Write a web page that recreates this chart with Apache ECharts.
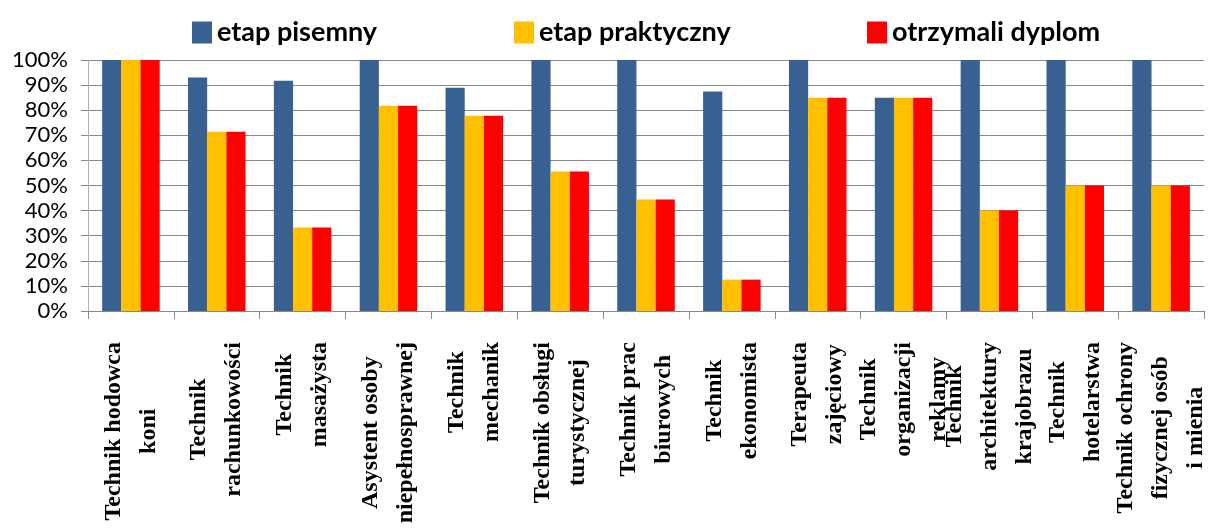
<!DOCTYPE html>
<html>
<head>
<meta charset="utf-8">
<script src="https://cdn.jsdelivr.net/npm/echarts@6/dist/echarts.min.js"></script>
<style>
  html, body { margin: 0; padding: 0; background: #fff; }
  #chart { width: 1208px; height: 532px; }
</style>
</head>
<body>
<div id="chart"></div>
<script>
// kierunki (etykiety osi X, linie rozdzielone \n)
const categories = [
  'Technik hodowca\nkoni',
  'Technik\nrachunkowości',
  'Technik\nmasażysta',
  'Asystent osoby\nniepełnosprawnej',
  'Technik\nmechanik',
  'Technik obsługi\nturystycznej',
  'Technik prac\nbiurowych',
  'Technik\nekonomista',
  'Terapeuta\nzajęciowy',
  'Technik\norganizacji\nreklamy',
  'Technik\narchitektury\nkrajobrazu',
  'Technik\nhotelarstwa',
  'Technik ochrony\nfizycznej osób\ni mienia'
];

const seriesNames = ['etap pisemny', 'etap praktyczny', 'otrzymali dyplom'];

const pisemny   = [100, 93.0, 91.7, 100, 88.9, 100, 100, 87.5, 100, 85, 100, 100, 100];
const praktyczny = [100, 71.4, 33.3, 81.8, 77.8, 55.6, 44.4, 12.5, 85, 85, 40, 50, 50];
const dyplom    = [100, 71.4, 33.3, 81.8, 77.8, 55.6, 44.4, 12.5, 85, 85, 40, 50, 50];

const colors = ['#386192', '#FFC000', '#FF0000'];

const chart = echarts.init(document.getElementById('chart'));

const legendText = {
  fontFamily: 'Lato',
  fontWeight: 'bold',
  fontSize: 27,
  color: '#000'
};

const option = {
  animation: false,
  color: colors,
  legend: [
    { data: [seriesNames[0]], left: 187, top: 14, itemWidth: 20, itemHeight: 22, icon: 'rect', textStyle: legendText },
    { data: [seriesNames[1]], left: 509, top: 14, itemWidth: 20, itemHeight: 22, icon: 'rect', textStyle: legendText },
    { data: [seriesNames[2]], left: 862, top: 14, itemWidth: 20, itemHeight: 22, icon: 'rect', textStyle: legendText }
  ],
  grid: {
    left: 88,
    right: 1,
    top: 60,
    bottom: 221
  },
  xAxis: {
    type: 'category',
    data: categories,
    axisLine: { lineStyle: { color: '#878787', width: 1 } },
    axisTick: { show: true, length: 8, lineStyle: { color: '#878787' } },
    axisLabel: {
      interval: 0,
      rotate: 90,
      margin: 31,
      formatter: function (v) {
        return v.split('\n').map(s => '{a|' + s + '}').join('\n');
      },
      rich: {
        a: {
          align: 'center',
          fontFamily: '"Liberation Serif", "Times New Roman", serif',
          fontWeight: 'bold',
          fontSize: 24,
          lineHeight: 35,
          color: '#000'
        }
      }
    }
  },
  yAxis: {
    type: 'value',
    min: 0,
    max: 100,
    interval: 10,
    axisLine: { show: true, lineStyle: { color: '#b0b0b0' } },
    axisTick: { show: true, length: 7, lineStyle: { color: '#878787' } },
    splitLine: { lineStyle: { color: '#878787', width: 1 } },
    axisLabel: {
      formatter: '{value}%',
      margin: 20,
      fontFamily: 'Lato',
      fontSize: 22,
      color: '#000'
    }
  },
  series: [
    { name: seriesNames[0], type: 'bar', data: pisemny, barGap: '0%', barCategoryGap: '33%' },
    { name: seriesNames[1], type: 'bar', data: praktyczny, barGap: '0%', barCategoryGap: '33%' },
    { name: seriesNames[2], type: 'bar', data: dyplom, barGap: '0%', barCategoryGap: '33%' }
  ]
};

chart.setOption(option);
</script>
</body>
</html>
